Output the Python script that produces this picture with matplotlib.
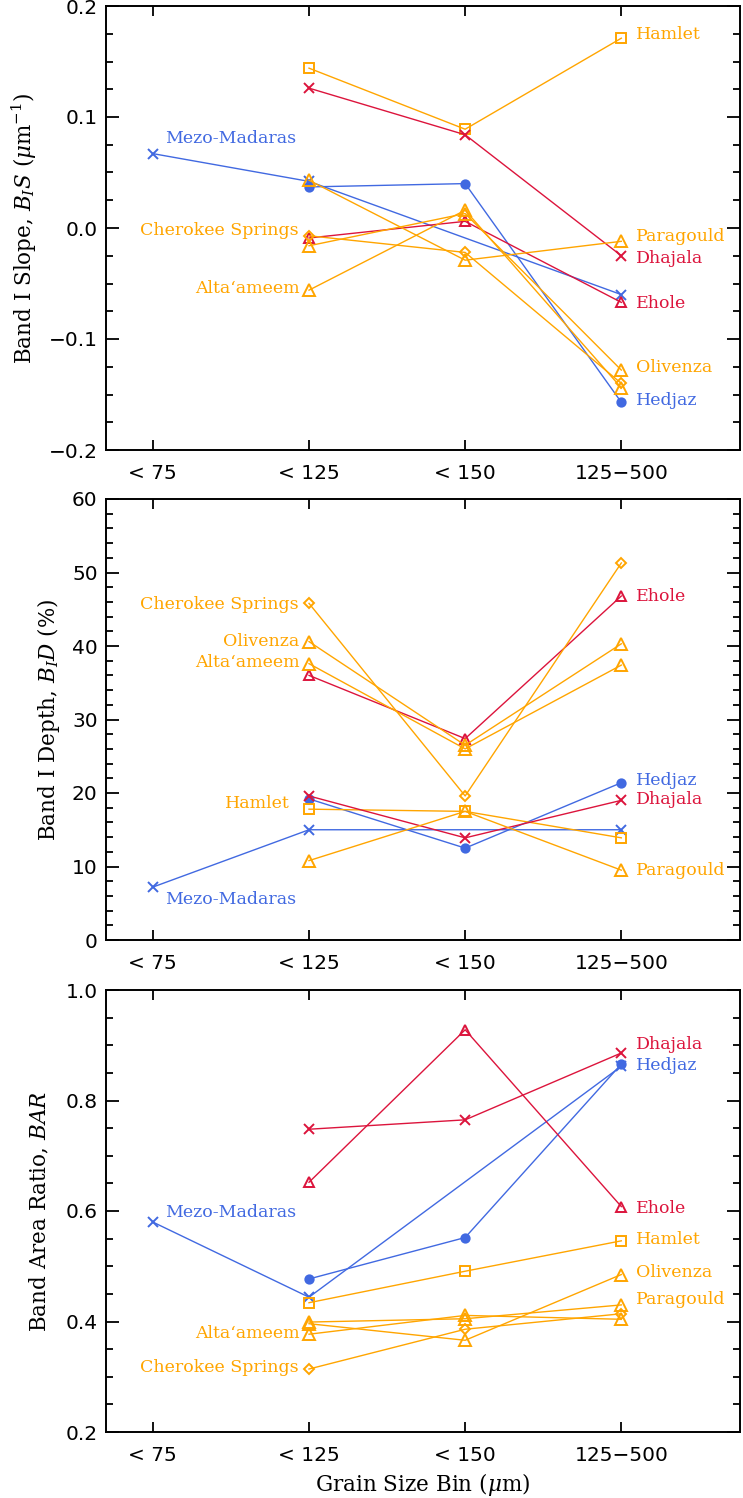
import numpy as np
import matplotlib
matplotlib.use("Agg")
import matplotlib.pyplot as plt
from matplotlib.ticker import MultipleLocator, FixedLocator, FuncFormatter

plt.rcParams["mathtext.fontset"] = "dejavuserif"

# ---- data -------------------------------------------------------------
bins = ["< 75", "< 125", "< 150", "125\u2212500"]

meteorites = ["Mezo-Madaras", "Hedjaz", "Hamlet", "Dhajala", "Ehole",
              "Paragould", "Olivenza", "Alta\u2018ameem", "Cherokee Springs"]

nan = np.nan

# Band I slope (um^-1) per grain-size bin
band1_slope = {
    "Mezo-Madaras":     [0.067, 0.042, nan, -0.060],
    "Hedjaz":           [nan, 0.037, 0.040, -0.157],
    "Hamlet":           [nan, 0.144, 0.089, 0.171],
    "Dhajala":          [nan, 0.126, 0.084, -0.025],
    "Ehole":            [nan, -0.009, 0.006, -0.067],
    "Paragould":        [nan, 0.043, -0.029, -0.012],
    "Olivenza":         [nan, -0.016, 0.013, -0.128],
    "Alta\u2018ameem":  [nan, -0.056, 0.016, -0.144],
    "Cherokee Springs": [nan, -0.007, -0.022, -0.140],
}

# Band I depth (%) per grain-size bin
band1_depth = {
    "Mezo-Madaras":     [7.2, 15.0, nan, 15.0],
    "Hedjaz":           [nan, 19.2, 12.5, 21.4],
    "Hamlet":           [nan, 17.8, 17.5, 13.9],
    "Dhajala":          [nan, 19.6, 13.9, 19.0],
    "Ehole":            [nan, 36.0, 27.4, 46.8],
    "Paragould":        [nan, 10.8, 17.5, 9.5],
    "Olivenza":         [nan, 40.6, 26.5, 40.3],
    "Alta\u2018ameem":  [nan, 37.6, 26.0, 37.4],
    "Cherokee Springs": [nan, 45.8, 19.6, 51.3],
}

# Band area ratio per grain-size bin
band_area_ratio = {
    "Mezo-Madaras":     [0.580, 0.444, nan, 0.862],
    "Hedjaz":           [nan, 0.477, 0.552, 0.866],
    "Hamlet":           [nan, 0.434, 0.491, 0.546],
    "Dhajala":          [nan, 0.748, 0.765, 0.886],
    "Ehole":            [nan, 0.652, 0.928, 0.608],
    "Paragould":        [nan, 0.399, 0.405, 0.430],
    "Olivenza":         [nan, 0.396, 0.366, 0.485],
    "Alta\u2018ameem":  [nan, 0.377, 0.411, 0.404],
    "Cherokee Springs": [nan, 0.314, 0.386, 0.414],
}

# ---- styling ------------------------------------------------------------
BLUE, RED, ORANGE = "#4169E1", "#DC143C", "#FFA500"
style = {
    "Mezo-Madaras":     (BLUE, "x", 7.0, True),
    "Hedjaz":           (BLUE, "o", 6.0, True),
    "Hamlet":           (ORANGE, "s", 6.5, False),
    "Dhajala":          (RED, "x", 7.0, True),
    "Ehole":            (RED, "^", 7.5, False),
    "Paragould":        (ORANGE, "^", 8.0, False),
    "Olivenza":         (ORANGE, "^", 8.0, False),
    "Alta\u2018ameem":  (ORANGE, "^", 8.0, False),
    "Cherokee Springs": (ORANGE, "D", 5.5, False),
}

# name labels: (meteorite, bin index, dx px, dy px, ha)
labels_slope = [
    ("Mezo-Madaras", 0, 12, 15, "left"),
    ("Cherokee Springs", 1, -10, 5, "right"),
    ("Alta\u2018ameem", 1, -9, 2, "right"),
    ("Hamlet", 3, 15, 4, "left"),
    ("Paragould", 3, 15, 5, "left"),
    ("Dhajala", 3, 15, -3, "left"),
    ("Ehole", 3, 15, -1, "left"),
    ("Olivenza", 3, 15, 3, "left"),
    ("Hedjaz", 3, 15, 2, "left"),
]
labels_depth = [
    ("Cherokee Springs", 1, -10, -1, "right"),
    ("Olivenza", 1, -10, 0, "right"),
    ("Alta\u2018ameem", 1, -9, 1, "right"),
    ("Hamlet", 1, -19, 6, "right"),
    ("Mezo-Madaras", 0, 12, -12, "left"),
    ("Ehole", 3, 15, 0, "left"),
    ("Hedjaz", 3, 15, 2, "left"),
    ("Dhajala", 3, 15, 1, "left"),
    ("Paragould", 3, 15, 0, "left"),
]
labels_bar = [
    ("Mezo-Madaras", 0, 12, 10, "left"),
    ("Alta\u2018ameem", 1, -9, 1, "right"),
    ("Cherokee Springs", 1, -10, 2, "right"),
    ("Dhajala", 3, 15, 8, "left"),
    ("Hedjaz", 3, 15, -1, "left"),
    ("Ehole", 3, 15, -2, "left"),
    ("Hamlet", 3, 15, 1, "left"),
    ("Olivenza", 3, 15, 2, "left"),
    ("Paragould", 3, 15, 5, "left"),
]

panels = [
    dict(data=band1_slope, labels=labels_slope, ylim=(-0.2, 0.2), major=0.1, minor=0.025,
         fmt="{:.1f}", ylabel=r"Band I Slope, $B_IS$ ($\mu$m$^{-1}$)",
         rect=[106 / 743, 1 - 450 / 1498, 634 / 743, 444 / 1498], ylab_x=-0.106),
    dict(data=band1_depth, labels=labels_depth, ylim=(0, 60), major=10, minor=2,
         fmt="{:.0f}", ylabel=r"Band I Depth, $B_ID$ (%)",
         rect=[106 / 743, 1 - 940 / 1498, 634 / 743, 441 / 1498], ylab_x=-0.070),
    dict(data=band_area_ratio, labels=labels_bar, ylim=(0.2, 1.0), major=0.2, minor=0.05,
         fmt="{:.1f}", ylabel=r"Band Area Ratio, $BAR$",
         rect=[106 / 743, 1 - 1432 / 1498, 634 / 743, 442 / 1498], ylab_x=-0.086),
]

SERIF = "DejaVu Serif"
SANS = "DejaVu Sans"
NAME_FS = 12.5
TICK_FS = 14.5
AXLAB_FS = 15.5


def tick_formatter(fmt):
    def _f(v, pos):
        s = fmt.format(v)
        if s.startswith("-") and float(s) == 0:
            s = s[1:]
        return s.replace("-", "\u2212")
    return FuncFormatter(_f)


fig = plt.figure(figsize=(7.43, 14.98), dpi=100)
xpos = np.arange(len(bins))

for p in panels:
    ax = fig.add_axes(p["rect"])
    for name in meteorites:
        vals = np.asarray(p["data"][name], dtype=float)
        ok = ~np.isnan(vals)
        color, marker, ms, filled = style[name]
        ax.plot(xpos[ok], vals[ok], color=color, lw=1.0, marker=marker, ms=ms,
                mfc=color if filled else "none", mec=color, mew=1.4,
                clip_on=False, zorder=3)

    for name, idx, dx, dy, ha in p["labels"]:
        color = style[name][0]
        yv = p["data"][name][idx]
        ax.annotate(name, (xpos[idx], yv), xytext=(dx, dy), textcoords="offset pixels",
                    ha=ha, va="center", color=color, fontsize=NAME_FS, family=SERIF)

    ax.set_xlim(-0.3, 3.76)
    ax.set_ylim(*p["ylim"])
    ax.xaxis.set_major_locator(FixedLocator(xpos))
    ax.set_xticklabels(bins, fontsize=TICK_FS, family=SANS)
    ax.yaxis.set_major_locator(MultipleLocator(p["major"]))
    ax.yaxis.set_minor_locator(MultipleLocator(p["minor"]))
    ax.yaxis.set_major_formatter(tick_formatter(p["fmt"]))
    for lab in ax.get_yticklabels():
        lab.set_fontsize(TICK_FS)
        lab.set_family(SANS)
    ax.tick_params(axis="x", which="major", direction="in", length=7, width=1.3,
                   top=True, bottom=True, pad=10)
    ax.tick_params(axis="y", which="major", direction="in", length=9.5, width=1.3,
                   left=True, right=True, pad=6)
    ax.tick_params(axis="y", which="minor", direction="in", length=5, width=1.3,
                   left=True, right=True)
    for sp in ax.spines.values():
        sp.set_linewidth(1.4)
    ax.set_ylabel(p["ylabel"], fontsize=AXLAB_FS, family=SERIF)
    ax.yaxis.set_label_coords(p["ylab_x"], 0.5)

fig.text(423 / 743, 1 - 1485 / 1498, r"Grain Size Bin ($\mu$m)", ha="center", va="center",
         fontsize=AXLAB_FS, family=SERIF)

fig.savefig("out.png", dpi=100)
